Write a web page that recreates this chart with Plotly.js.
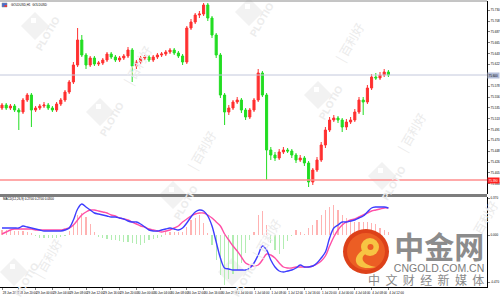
<!DOCTYPE html>
<html><head><meta charset="utf-8">
<script src="https://cdn.plot.ly/plotly-3.0.1.min.js"></script>
<style>html,body{margin:0;padding:0;background:#fff}#chart{width:500px;height:300px}</style>
</head><body><div id="chart"></div>
<script>
// ---------- data ----------
const openP = [75.534,75.540,75.534,75.538,75.530,75.526,75.550,75.560,75.530,75.534,
75.538,75.540,75.534,75.530,75.542,75.550,75.566,75.586,75.620,75.670,
75.640,75.620,75.634,75.622,75.624,75.630,75.642,75.636,75.630,75.634,
75.638,75.650,75.618,75.626,75.634,75.636,75.630,75.636,75.640,75.642,
75.646,75.650,75.644,75.638,75.626,75.694,75.706,75.720,75.722,75.740,
75.714,75.680,75.640,75.560,75.526,75.534,75.546,75.550,75.530,75.516,
75.530,75.550,75.604,75.560,75.450,75.440,75.434,75.446,75.450,75.448,
75.440,75.430,75.434,75.424,75.386,75.410,75.430,75.460,75.490,75.510,
75.514,75.510,75.496,75.506,75.510,75.526,75.550,75.546,75.574,75.596,
75.594,75.600,75.606];
const highP = [75.544,75.544,75.542,75.542,75.534,75.554,75.564,75.564,75.538,75.542,
75.546,75.544,75.538,75.546,75.554,75.570,75.590,75.626,75.694,75.680,
75.644,75.638,75.638,75.628,75.634,75.646,75.646,75.640,75.638,75.642,
75.656,75.654,75.630,75.638,75.640,75.640,75.640,75.644,75.646,75.650,
75.654,75.654,75.648,75.642,75.698,75.712,75.724,75.728,75.744,75.744,
75.718,75.684,75.644,75.564,75.540,75.550,75.556,75.554,75.534,75.534,
75.554,75.612,75.608,75.564,75.456,75.446,75.452,75.456,75.454,75.452,
75.444,75.440,75.438,75.428,75.414,75.436,75.466,75.496,75.516,75.520,
75.518,75.514,75.512,75.516,75.532,75.556,75.556,75.580,75.602,75.604,
75.606,75.612,75.610];
const lowP = [75.530,75.530,75.530,75.526,75.490,75.522,75.546,75.496,75.526,75.530,
75.534,75.530,75.526,75.526,75.538,75.546,75.562,75.582,75.616,75.636,
75.612,75.616,75.618,75.618,75.620,75.626,75.632,75.626,75.626,75.630,
75.634,75.586,75.612,75.622,75.630,75.626,75.626,75.632,75.636,75.638,
75.642,75.640,75.634,75.620,75.622,75.690,75.702,75.714,75.718,75.708,
75.674,75.634,75.554,75.500,75.520,75.530,75.542,75.524,75.510,75.512,
75.526,75.546,75.556,75.390,75.430,75.428,75.430,75.442,75.444,75.434,
75.424,75.426,75.418,75.376,75.380,75.406,75.426,75.454,75.486,75.506,
75.504,75.486,75.490,75.502,75.506,75.522,75.520,75.542,75.570,75.590,
75.590,75.596,75.596];
const closeP = [75.540,75.534,75.538,75.530,75.526,75.550,75.560,75.530,75.534,75.538,
75.540,75.534,75.530,75.542,75.550,75.566,75.586,75.620,75.670,75.640,
75.620,75.634,75.622,75.624,75.630,75.642,75.636,75.630,75.634,75.638,
75.650,75.618,75.626,75.634,75.636,75.630,75.636,75.640,75.642,75.646,
75.650,75.644,75.638,75.626,75.694,75.706,75.720,75.722,75.740,75.714,
75.680,75.640,75.560,75.526,75.534,75.546,75.550,75.530,75.516,75.530,
75.550,75.604,75.560,75.450,75.440,75.434,75.446,75.450,75.448,75.440,
75.430,75.434,75.424,75.386,75.410,75.430,75.460,75.490,75.510,75.514,
75.510,75.496,75.506,75.510,75.526,75.550,75.546,75.574,75.596,75.594,
75.600,75.606,75.600];

const macdMain = [0.07,0.07,0.07,0.07,0.07,0.09,0.08,0.07,0.06,0.05,
0.04,0.04,0.04,0.04,0.04,0.05,0.07,0.15,0.26,0.31,
0.28,0.25,0.22,0.21,0.20,0.19,0.18,0.18,0.17,0.16,
0.14,0.13,0.13,0.11,0.08,0.05,0.04,0.04,0.05,0.06,
0.07,0.06,0.05,0.07,0.12,0.18,0.23,0.25,0.24,0.19,
0.09,-0.07,-0.23,-0.33,-0.34,-0.35,-0.35,-0.35,-0.35,-0.33,
-0.28,-0.20,-0.11,-0.15,-0.25,-0.32,-0.36,-0.37,-0.36,-0.35,
-0.33,-0.30,-0.32,-0.32,-0.31,-0.28,-0.23,-0.17,-0.03,0.07,
0.10,0.13,0.13,0.14,0.15,0.17,0.19,0.23,0.27,0.28,
0.28,0.28,0.27];
const macdSignal = [0.01,0.03,0.05,0.06,0.06,0.06,0.06,0.06,0.05,0.05,
0.05,0.05,0.05,0.05,0.05,0.06,0.07,0.10,0.15,0.20,
0.23,0.25,0.25,0.24,0.23,0.22,0.20,0.19,0.17,0.16,
0.15,0.13,0.11,0.09,0.08,0.06,0.05,0.04,0.03,0.04,
0.05,0.07,0.09,0.13,0.16,0.19,0.21,0.22,0.22,0.20,
0.17,0.13,0.09,0.01,-0.05,-0.11,-0.16,-0.22,-0.28,-0.30,
-0.31,-0.30,-0.25,-0.19,-0.20,-0.23,-0.28,-0.32,-0.33,-0.33,
-0.32,-0.32,-0.32,-0.32,-0.31,-0.29,-0.26,-0.21,-0.11,-0.02,
0.05,0.10,0.13,0.15,0.16,0.18,0.20,0.22,0.24,0.25,
0.26,0.27,0.27];
const macdHist = [0.05,0.05,0.05,0.04,0.04,0.04,0.03,0.02,-0.01,-0.03,
-0.03,-0.03,-0.03,-0.03,-0.02,-0.01,0.04,0.10,0.20,0.22,
0.18,0.11,0.03,-0.02,-0.03,-0.04,-0.05,-0.05,-0.06,-0.07,
-0.07,-0.08,-0.09,-0.10,-0.08,-0.05,-0.04,-0.03,-0.02,0.03,
0.03,0.03,0.03,0.03,0.08,0.15,0.17,0.20,0.12,0.02,
-0.10,-0.25,-0.40,-0.50,-0.44,-0.39,-0.35,-0.28,-0.18,-0.05,
0.03,0.20,0.24,0.10,-0.08,-0.15,-0.19,-0.14,-0.06,-0.01,
0.05,0.03,0.01,0.07,0.10,0.15,0.20,0.25,0.28,0.30,
0.25,0.20,0.17,0.14,0.13,0.13,0.13,0.13,0.12,0.11,
0.07,0.05,0.03];

const tickBars = [0,4,8,12,16,20,24,28,32,36,40,44,48,52,56,60,64,68,72,76,80,84,88,92];
const tickLabels = ['28 Jun 2022','28 Jun 20:00','29 Jun 00:00','29 Jun 04:00','29 Jun 08:00','29 Jun 12:00',
'29 Jun 16:00','29 Jun 20:00','30 Jun 00:00','30 Jun 04:00','30 Jun 08:00','30 Jun 12:00',
'30 Jun 16:00','30 Jun 20:00','1 Jul 00:00','1 Jul 04:00','1 Jul 08:00','1 Jul 12:00',
'1 Jul 16:00','1 Jul 20:00','4 Jul 00:00','4 Jul 04:00','4 Jul 08:00','4 Jul 12:00'];
// the 75.600 tick sits under the current-price box, so it carries no label of its own
const priceTicks = [75.730,75.708,75.687,75.665,75.643,75.622,75.600,75.578,75.556,75.535,75.513,75.491,75.470,75.448,75.426,75.405,75.383];
const priceTickText = ['75.730','75.708','75.687','75.665','75.643','75.622','','75.578','75.556','75.535','75.513','75.491','75.470','75.448','75.426','75.405','75.383'];
const macdTicks = [0.37, 0, -0.47];
const macdTickText = ['0.370','0.000','-0.470'];
const lastPrice = 75.600;
const alertLevel = 75.390;
const titleText = 'GOLDUSD,H1  GOLDUSD';
const macdText = 'MACD(12,26,9) 0.2700 0.2700 0.0300';

// ---------- chart ----------
const barNo = closeP.map((_, i) => i);
const W = 487, TOP = 1, BOT = 287;
const px = x => x / W;
const py = y => (BOT - y) / (BOT - TOP);

const traces = [
  { type: 'bar', x: barNo, y: macdHist, xaxis: 'x', yaxis: 'y2', width: 0.3,
    marker: { color: macdHist.map(v => v >= 0 ? '#ffb2b2' : '#b2edb2'), line: { width: 0 } }, hoverinfo: 'skip' },
  { type: 'scatter', mode: 'lines', x: barNo, y: macdSignal, xaxis: 'x', yaxis: 'y2',
    line: { color: '#ff4fa6', width: 1.4, shape: 'spline' }, hoverinfo: 'skip' },
  { type: 'scatter', mode: 'lines', x: barNo, y: macdMain, xaxis: 'x', yaxis: 'y2',
    line: { color: '#3d3dff', width: 1.4, shape: 'spline' }, hoverinfo: 'skip' },
  { type: 'candlestick', x: barNo, open: openP, high: highP, low: lowP, close: closeP,
    xaxis: 'x', yaxis: 'y', whiskerwidth: 0,
    increasing: { line: { color: '#ff3030', width: 1 }, fillcolor: '#ff3030' },
    decreasing: { line: { color: '#22dd22', width: 1 }, fillcolor: '#22dd22' },
    hoverinfo: 'skip' }
];

const shapes = [];
const annotations = [];
const centred = { xanchor: 'center', yanchor: 'middle', showarrow: false, xref: 'paper', yref: 'paper' };

// watermarks
const logoSpots = [[35,26],[249,12],[100,112],[318,95],[173,195],[382,176],[232,272],[14,272]];
logoSpots.forEach(([cx, cy]) => {
  const s = 14;
  shapes.push({ type: 'path', xref: 'paper', yref: 'paper', layer: 'below',
    path: `M ${px(cx)},${py(cy - s)} L ${px(cx + s)},${py(cy)} L ${px(cx)},${py(cy + s)} L ${px(cx - s)},${py(cy)} Z`,
    fillcolor: '#f2f2f2', line: { width: 0 } });
  shapes.push({ type: 'rect', xref: 'paper', yref: 'paper', layer: 'below',
    x0: px(cx - 4), x1: px(cx + 1), y0: py(cy - 3), y1: py(cy - 8), fillcolor: '#ffffff', line: { width: 0 } });
  annotations.push(Object.assign({}, centred, { x: px(cx + 12), y: py(cy + 8), text: 'PLOTIO', textangle: -60,
    font: { family: 'Liberation Sans', size: 10, color: '#ececec', weight: 700 } }));
});
const brandSpots = [[138,65],[350,42],[202,150],[412,132],[48,258],[267,238],[484,220]];
brandSpots.forEach(([cx, cy]) => {
  annotations.push(Object.assign({}, centred, { x: px(cx), y: py(cy), text: '|\u00a0百利好', textangle: -60,
    font: { family: 'Noto Sans CJK SC', size: 12, color: '#ebebeb' } }));
});

// panel frame
shapes.push({ type: 'line', xref: 'paper', yref: 'paper', x0: 0, x1: 1, y0: 1, y1: 1, line: { color: '#8a8a8a', width: 1 } });
shapes.push({ type: 'rect', xref: 'paper', yref: 'paper', x0: 0, x1: 1, y0: py(197), y1: py(194),
  fillcolor: '#7d7d7d', line: { width: 0 } });
// price and alert lines
shapes.push({ type: 'line', xref: 'paper', yref: 'y', x0: 0, x1: 1, y0: lastPrice, y1: lastPrice, line: { color: '#c3c8dc', width: 1 } });
shapes.push({ type: 'line', xref: 'paper', yref: 'y', x0: 0, x1: 1, y0: alertLevel, y1: alertLevel, line: { color: '#ff8e8e', width: 1.5 } });

// title icon
shapes.push({ type: 'rect', xref: 'paper', yref: 'paper', x0: px(2), x1: px(7), y0: py(7), y1: py(3),
  fillcolor: '#4a6fd0', line: { color: '#888', width: 0.5 } });
shapes.push({ type: 'rect', xref: 'paper', yref: 'paper', x0: px(4.5), x1: px(7), y0: py(7), y1: py(5),
  fillcolor: '#e04040', line: { width: 0 } });
annotations.push({ xref: 'paper', yref: 'paper', x: px(8.5), y: py(5), xanchor: 'left', yanchor: 'middle', text: titleText,
  showarrow: false, font: { family: 'Liberation Sans', size: 3, color: '#000' } });
annotations.push({ xref: 'paper', yref: 'paper', x: px(1), y: py(199), xanchor: 'left', yanchor: 'middle', text: macdText,
  showarrow: false, font: { family: 'Liberation Sans', size: 3, color: '#000' } });

// price labels on axis
annotations.push({ xref: 'paper', yref: 'y', x: 1, y: lastPrice, xanchor: 'left', yanchor: 'middle', text: lastPrice.toFixed(3),
  showarrow: false, bgcolor: '#b4bed8', borderpad: 0.5, font: { family: 'Liberation Sans', size: 3, color: '#000' } });
annotations.push({ xref: 'paper', yref: 'y', x: 1, y: alertLevel, xanchor: 'left', yanchor: 'middle', text: alertLevel.toFixed(3),
  showarrow: false, bgcolor: '#ff2020', borderpad: 0.5, font: { family: 'Liberation Sans', size: 3, color: '#fff' } });

// CNGOLD logo
shapes.push({ type: 'circle', xref: 'paper', yref: 'paper', x0: px(343), x1: px(389), y0: py(274), y1: py(229),
  fillcolor: '#dd4119', line: { width: 0 } });
shapes.push({ type: 'circle', xref: 'paper', yref: 'paper', x0: px(347), x1: px(385), y0: py(270), y1: py(233),
  fillcolor: '#ec5e24', line: { width: 0 } });
shapes.push({ type: 'circle', xref: 'paper', yref: 'paper', x0: px(361), x1: px(379), y0: py(256), y1: py(238),
  fillcolor: '#f7c443', line: { width: 0 } });
shapes.push({ type: 'circle', xref: 'paper', yref: 'paper', x0: px(367.5), x1: px(373.5), y0: py(250), y1: py(244),
  fillcolor: '#ec5e24', line: { width: 0 } });
shapes.push({ type: 'path', xref: 'paper', yref: 'paper',
  path: `M ${px(363)},${py(250)} C ${px(350)},${py(258)} ${px(355)},${py(272)} ${px(376)},${py(267)} C ${px(362)},${py(265)} ${px(359)},${py(257)} ${px(367)},${py(253)} Z`,
  fillcolor: '#f7c443', line: { width: 0 } });
const sp = '\u00a0\u00a0';
annotations.push({ xref: 'paper', yref: 'paper', x: px(486), y: py(290), xanchor: 'right', yanchor: 'bottom',
  align: 'right', showarrow: false,
  text: '<span style="font-size:30px;font-family:\'Noto Sans CJK SC\';font-weight:bold;fill:#8c8c8c">中金网</span><br>' +
        'CNGOLD.COM.CN<br>' +
        `<span style="font-size:12px;font-family:'Noto Sans CJK SC';fill:#8a8a8a">中${sp}文${sp}财${sp}经${sp}新${sp}媒${sp}体</span>`,
  font: { family: 'Liberation Sans', size: 10.5, color: '#7c7c7c' } });

const axisFont = { family: 'Liberation Sans', size: 3, color: '#000' };
const layout = {
  width: 500, height: 300,
  margin: { l: 0, r: 13, t: TOP, b: 300 - BOT },
  paper_bgcolor: '#fff', plot_bgcolor: 'rgba(0,0,0,0)',
  showlegend: false, bargap: 0,
  xaxis: { type: 'linear', range: [-0.476, 115.476], anchor: 'y2', domain: [0, 1],
    tickvals: tickBars, ticktext: tickLabels, tickangle: 0, tickfont: axisFont,
    ticklabelposition: 'outside right', ticklabelstandoff: 2,
    ticks: 'outside', ticklen: 2, tickwidth: 0.5, tickcolor: '#000',
    showline: true, linecolor: '#000', linewidth: 1, showgrid: false, zeroline: false,
    rangeslider: { visible: false }, fixedrange: true },
  yaxis: { domain: [py(194), 1], range: [75.362, 75.748], side: 'right', anchor: 'x',
    tickvals: priceTicks, ticktext: priceTickText, tickfont: axisFont,
    ticks: 'outside', ticklen: 2, tickwidth: 0.5, tickcolor: '#000',
    showline: true, linecolor: '#000', linewidth: 1, showgrid: false, zeroline: false },
  yaxis2: { domain: [0, py(197)], range: [-0.52, 0.38], side: 'right', anchor: 'x',
    tickvals: macdTicks, ticktext: macdTickText, tickfont: axisFont,
    ticks: 'outside', ticklen: 2, tickwidth: 0.5, tickcolor: '#000',
    showline: true, linecolor: '#000', linewidth: 1, showgrid: false, zeroline: false },
  shapes: shapes,
  annotations: annotations
};

Plotly.newPlot('chart', traces, layout, { staticPlot: true, displayModeBar: false });
</script>
</body></html>
